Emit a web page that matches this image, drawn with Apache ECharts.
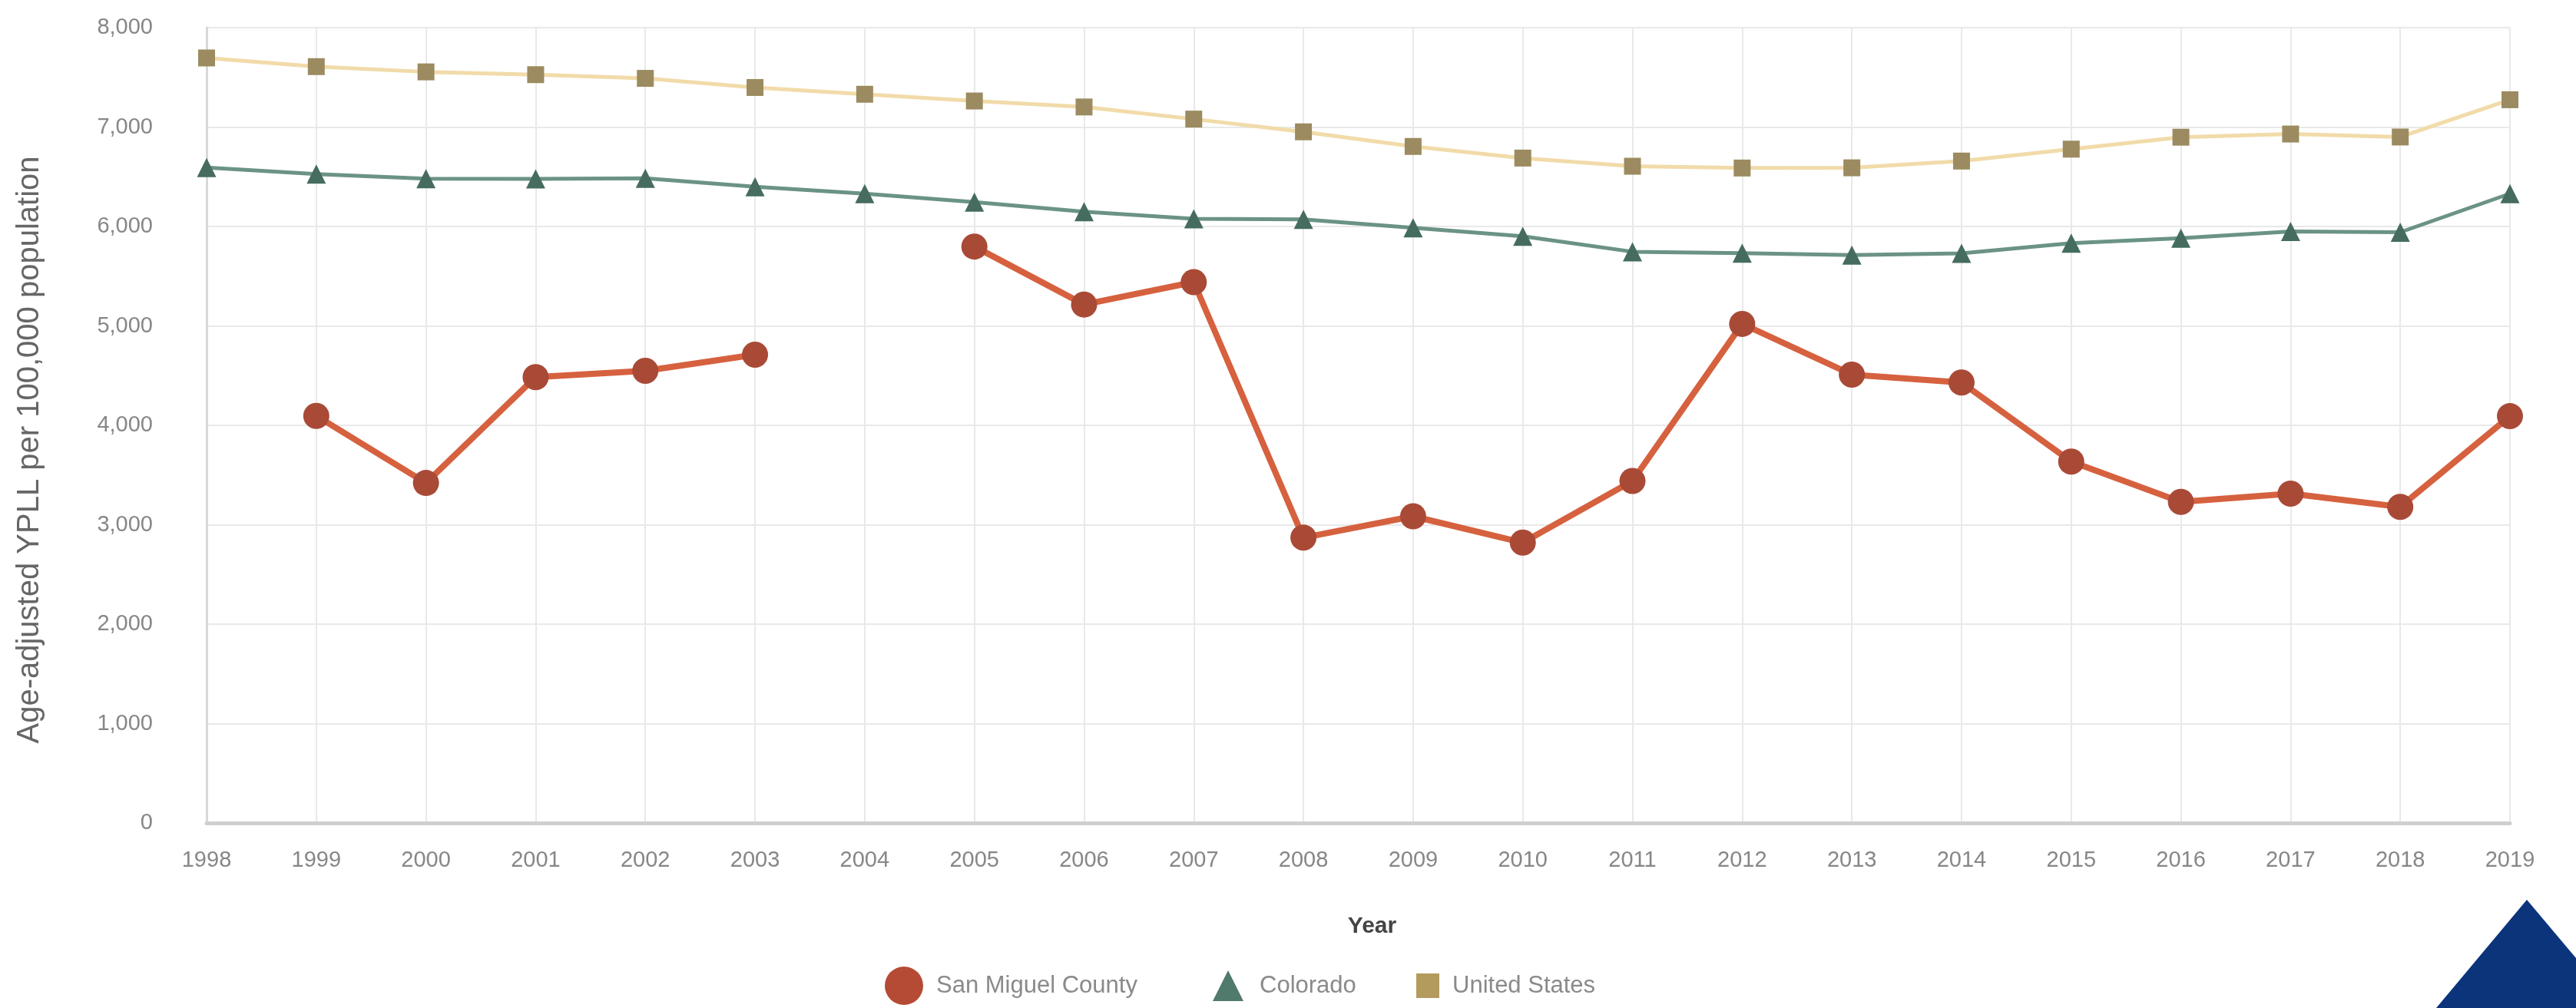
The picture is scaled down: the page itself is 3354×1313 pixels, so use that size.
<!DOCTYPE html>
<html>
<head>
<meta charset="utf-8">
<script src="https://cdn.jsdelivr.net/npm/echarts@6/dist/echarts.min.js"></script>
<style>
html,body{margin:0;padding:0;background:#fff;}
#chart{width:3354px;height:1313px;}
</style>
</head>
<body>
<div id="chart"></div>
<script>
const years = ['1998','1999','2000','2001','2002','2003','2004','2005','2006','2007','2008','2009','2010','2011','2012','2013','2014','2015','2016','2017','2018','2019'];
const sanMiguel = [null,4095,3420,4485,4548,4710,null,5798,5215,5440,2870,3085,2820,3440,5020,4510,4430,3635,3230,3313,3180,4092];
const colorado = [6592,6527,6480,6478,6485,6400,6330,6245,6148,6078,6072,5987,5902,5746,5732,5712,5730,5832,5882,5950,5942,6330];
const unitedStates = [7695,7608,7555,7527,7490,7398,7330,7262,7202,7080,6952,6805,6688,6606,6588,6590,6658,6778,6898,6930,6900,7275];
const yTicks = {min:0, max:8000, interval:1000};

const FONT = "'Liberation Sans', Arial, sans-serif";
const chart = echarts.init(document.getElementById('chart'));
chart.setOption({
  backgroundColor:'#ffffff',
  animation:false,
  grid:{left:269,right:86,top:36,bottom:241,containLabel:false},
  xAxis:{
    type:'category', data:years, boundaryGap:false,
    name:'Year', nameLocation:'middle', nameGap:120,
    nameTextStyle:{fontFamily:FONT,fontSize:30,fontWeight:'bold',color:'#444',padding:[0,0,0,36]},
    axisLine:{show:true,lineStyle:{color:'#cfcfcf',width:5}},
    axisTick:{show:false},
    axisLabel:{fontFamily:FONT,fontSize:29,color:'#878787',margin:34},
    splitLine:{show:true,lineStyle:{color:'#e9e9e9',width:2}}
  },
  yAxis:{
    type:'value', min:yTicks.min, max:yTicks.max, interval:yTicks.interval,
    name:'Age-adjusted YPLL per 100,000 population', nameLocation:'middle', nameGap:210,
    nameTextStyle:{fontFamily:FONT,fontSize:40,color:'#666',padding:[0,64,0,0]},
    axisLine:{show:true,lineStyle:{color:'#d8d8d8',width:3}},
    axisTick:{show:false},
    axisLabel:{fontFamily:FONT,fontSize:29,color:'#878787',margin:70,
      formatter:v=>v.toLocaleString('en-US')},
    splitLine:{show:true,lineStyle:{color:'#e9e9e9',width:2}}
  },
  legend:[
    {left:1147,top:1254,itemWidth:50,itemHeight:50,
     data:[{name:'San Miguel County',icon:'circle',itemStyle:{color:'#b54b35'}}],
     textStyle:{fontFamily:FONT,fontSize:31,color:'#8a8a8a',padding:[0,0,0,12]}},
    {left:1574,top:1259,itemWidth:40,itemHeight:40,
     data:[{name:'Colorado',icon:'triangle',itemStyle:{color:'#4f7a6c'}}],
     textStyle:{fontFamily:FONT,fontSize:31,color:'#8a8a8a',padding:[0,0,0,16]}},
    {left:1839,top:1263,itemWidth:30,itemHeight:32,
     data:[{name:'United States',icon:'rect',itemStyle:{color:'#b39b5e'}}],
     textStyle:{fontFamily:FONT,fontSize:31,color:'#8a8a8a',padding:[0,0,0,12]}}
  ],
  series:[
    {name:'United States',type:'line',data:unitedStates,symbol:'rect',symbolSize:22,
     lineStyle:{color:'#f1dba9',width:5},itemStyle:{color:'#9c8b60'},z:2,connectNulls:false},
    {name:'Colorado',type:'line',data:colorado,symbol:'triangle',symbolSize:25,
     lineStyle:{color:'#6b9385',width:5},itemStyle:{color:'#456c5f'},z:3,connectNulls:false},
    {name:'San Miguel County',type:'line',data:sanMiguel,symbol:'circle',symbolSize:34,
     lineStyle:{color:'#d6613f',width:8},itemStyle:{color:'#a94a37'},z:4,connectNulls:false}
  ],
  graphic:[{
    type:'polygon', silent:true, z:100,
    shape:{points:[[3290,1172],[3172,1313],[3354,1313],[3354,1248]]},
    style:{fill:'#0b347b'}
  }]
});
</script>
</body>
</html>
